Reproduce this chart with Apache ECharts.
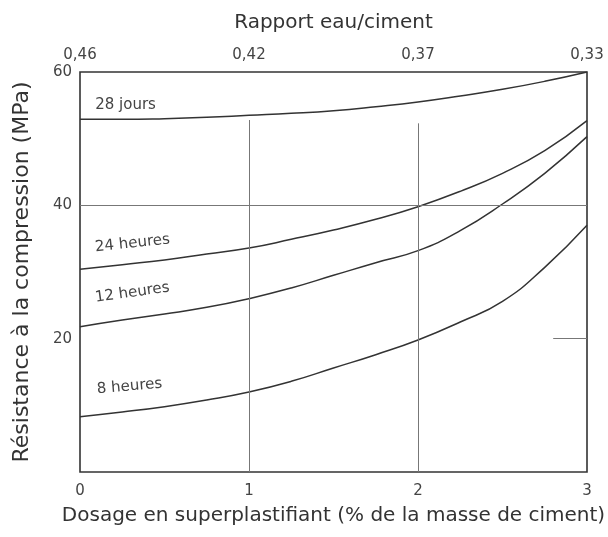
<!DOCTYPE html>
<html>
<head>
<meta charset="utf-8">
<script src="https://cdn.jsdelivr.net/npm/echarts@6/dist/echarts.min.js"></script>
<style>
  html, body { margin: 0; padding: 0; background: #fff; }
  #chart { width: 608px; height: 537px; }
</style>
</head>
<body>
<div id="chart"></div>
<script>
// dosage (% de la masse de ciment)
var dosage = [0, 0.25, 0.5, 0.75, 1, 1.25, 1.5, 1.75, 2, 2.25, 2.5, 2.75, 3];
var jours28 = [52.9, 52.9, 53.0, 53.2, 53.5, 53.8, 54.2, 54.8, 55.5, 56.4, 57.4, 58.6, 60];
var heures24 = [30.4, 31.1, 31.8, 32.7, 33.6, 34.9, 36.3, 37.9, 39.8, 42.1, 44.8, 48.2, 52.7];
var heures12 = [21.8, 22.8, 23.7, 24.7, 26.0, 27.6, 29.5, 31.4, 33.2, 36.2, 40.2, 44.8, 50.3];
var heures8 = [8.3, 9.0, 9.8, 10.8, 12.0, 13.6, 15.6, 17.6, 19.8, 22.5, 25.6, 30.7, 37.0];
var ratioLabels = ['0,46', '0,42', '0,37', '0,33'];
var curveNames = ['28 jours', '24 heures', '12 heures', '8 heures'];
// where each curve name sits (dosage, MPa) and its tilt
var namePos = [[0.09, 55.1, 0], [0.09, 33.7, 6], [0.09, 26.1, 8], [0.1, 12.4, 5]];

var ink = '#333';
var txt = '#444';
var font = 'DejaVu Sans, sans-serif';

function pairs(ys) {
    return dosage.map(function (x, i) { return [x, ys[i]]; });
}

function curve(name, ys, idx) {
    var p = namePos[idx];
    return {
        name: name,
        type: 'line',
        smooth: true,
        symbol: 'none',
        data: pairs(ys),
        lineStyle: { color: ink, width: 1.5 },
        markPoint: {
            symbol: 'circle',
            symbolSize: 0,
            data: [{
                coord: [p[0], p[1]],
                label: {
                    show: true,
                    formatter: name,
                    position: 'right',
                    distance: 0,
                    rotate: p[2],
                    color: txt,
                    fontSize: 15,
                    fontFamily: font
                }
            }]
        }
    };
}

var myChart = echarts.init(document.getElementById('chart'));
var series = [
    curve(curveNames[0], jours28, 0),
    curve(curveNames[1], heures24, 1),
    curve(curveNames[2], heures12, 2),
    curve(curveNames[3], heures8, 3)
];
// reference lines: 40 MPa across, partial verticals at 1 and 2 %, small mark at 20
series[0].markLine = {
    silent: true,
    symbol: 'none',
    label: { show: false },
    data: [
        [{ coord: [0, 40] }, { coord: [3, 40] }],
        [{ coord: [1, 0] }, { coord: [1, 52.8] }],
        [{ coord: [2, 0] }, { coord: [2, 52.3] }],
        [{ coord: [2.8, 20] }, { coord: [3, 20] }]
    ],
    lineStyle: { color: '#777', width: 1, type: 'solid' }
};

myChart.setOption({
    backgroundColor: '#fff',
    animation: false,
    grid: {
        left: 80, right: 21, top: 72, bottom: 65,
        outerBoundsMode: 'none',
        show: true,
        borderColor: ink,
        borderWidth: 1.6
    },
    xAxis: [{
        type: 'value',
        position: 'bottom',
        min: 0, max: 3, interval: 1,
        name: 'Dosage en superplastifiant (% de la masse de ciment)',
        nameLocation: 'middle',
        nameGap: 34,
        nameTextStyle: { color: '#333', fontSize: 20, fontFamily: font },
        axisLine: { show: false },
        axisTick: { show: false },
        splitLine: { show: false },
        axisLabel: { color: txt, fontSize: 15, margin: 12, fontFamily: font }
    }, {
        type: 'value',
        position: 'top',
        min: 0, max: 3, interval: 1,
        name: 'Rapport eau/ciment',
        nameLocation: 'middle',
        nameGap: 39,
        nameTextStyle: { color: '#333', fontSize: 20, fontFamily: font },
        axisLine: { show: false },
        axisTick: { show: false },
        splitLine: { show: false },
        axisLabel: {
            color: txt, fontSize: 15, margin: 9, fontFamily: font,
            formatter: function (v) { return ratioLabels[v]; }
        }
    }],
    yAxis: {
        type: 'value',
        min: 0, max: 60, interval: 20,
        name: 'Résistance à la compression (MPa)',
        nameLocation: 'middle',
        nameGap: 47,
        nameTextStyle: { color: '#333', fontSize: 22, fontFamily: font },
        axisLine: { show: false },
        axisTick: { show: false },
        splitLine: { show: false },
        axisLabel: { color: txt, fontSize: 15, margin: 8, fontFamily: font, showMinLabel: false }
    },
    series: series
});
</script>
</body>
</html>
